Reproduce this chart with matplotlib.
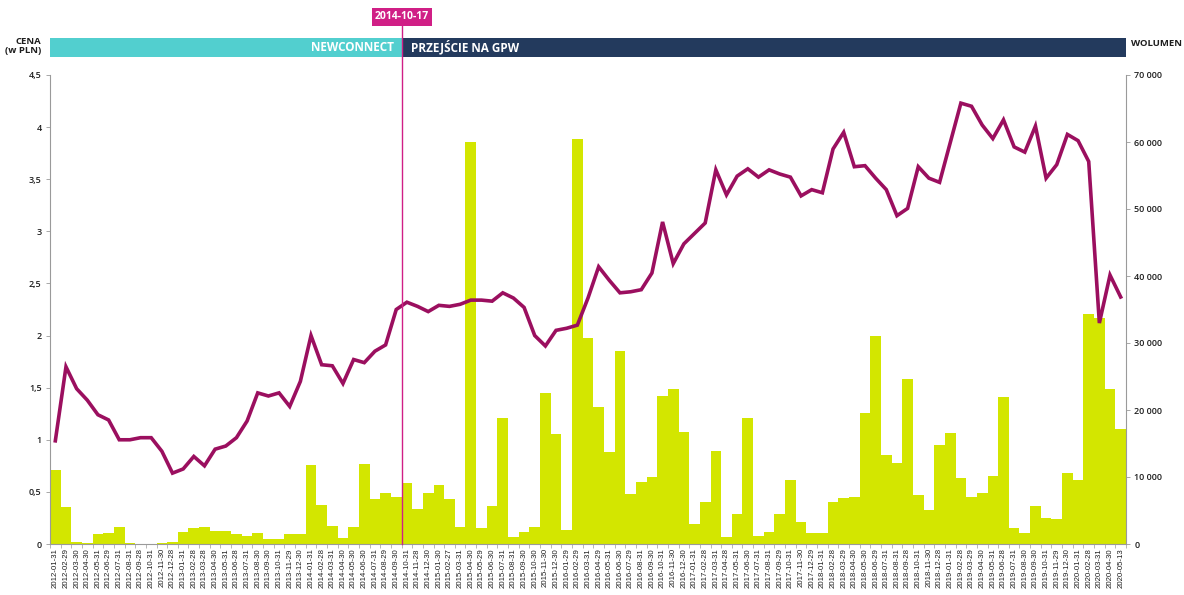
import matplotlib
matplotlib.use("Agg")
import matplotlib.pyplot as plt
import matplotlib.transforms as mtransforms
from matplotlib.patches import Rectangle
from matplotlib.ticker import FixedLocator, FuncFormatter
import numpy as np

# Daty notowań (koniec miesiąca)
daty = [
    "2012-01-31", "2012-02-29", "2012-03-30", "2012-04-30", "2012-05-31", "2012-06-29",
    "2012-07-31", "2012-08-31", "2012-09-28", "2012-10-31", "2012-11-30", "2012-12-28",
    "2013-01-31", "2013-02-28", "2013-03-28", "2013-04-30", "2013-05-31", "2013-06-28",
    "2013-07-31", "2013-08-30", "2013-09-30", "2013-10-31", "2013-11-29", "2013-12-30",
    "2014-01-31", "2014-02-28", "2014-03-31", "2014-04-30", "2014-05-30", "2014-06-30",
    "2014-07-31", "2014-08-29", "2014-09-30", "2014-10-31", "2014-11-28", "2014-12-30",
    "2015-01-30", "2015-02-27", "2015-03-31", "2015-04-30", "2015-05-29", "2015-06-30",
    "2015-07-31", "2015-08-31", "2015-09-30", "2015-10-30", "2015-11-30", "2015-12-30",
    "2016-01-29", "2016-02-29", "2016-03-31", "2016-04-29", "2016-05-31", "2016-06-30",
    "2016-07-29", "2016-08-31", "2016-09-30", "2016-10-31", "2016-11-30", "2016-12-30",
    "2017-01-31", "2017-02-28", "2017-03-31", "2017-04-28", "2017-05-31", "2017-06-30",
    "2017-07-31", "2017-08-31", "2017-09-29", "2017-10-31", "2017-11-30", "2017-12-29",
    "2018-01-31", "2018-02-28", "2018-03-29", "2018-04-30", "2018-05-30", "2018-06-29",
    "2018-07-31", "2018-08-31", "2018-09-28", "2018-10-31", "2018-11-30", "2018-12-28",
    "2019-01-31", "2019-02-28", "2019-03-29", "2019-04-30", "2019-05-31", "2019-06-28",
    "2019-07-31", "2019-08-30", "2019-09-30", "2019-10-31", "2019-11-29", "2019-12-30",
    "2020-01-31", "2020-02-28", "2020-03-31", "2020-04-30", "2020-05-13",
]

# Cena zamknięcia (PLN)
cena = [
    0.99, 1.70, 1.49, 1.38, 1.24, 1.19, 1.00, 1.00, 1.02, 1.02, 0.89, 0.68,
    0.72, 0.84, 0.75, 0.91, 0.94, 1.02, 1.18, 1.45, 1.42, 1.45, 1.32, 1.56,
    2.00, 1.72, 1.71, 1.54, 1.77, 1.74, 1.85, 1.91, 2.25, 2.32, 2.28, 2.23,
    2.29, 2.28, 2.30, 2.34, 2.34, 2.33, 2.41, 2.36, 2.27, 2.00, 1.90, 2.05,
    2.07, 2.10, 2.36, 2.66, 2.53, 2.41, 2.42, 2.44, 2.60, 3.09, 2.69, 2.88,
    2.98, 3.08, 3.59, 3.35, 3.53, 3.60, 3.52, 3.59, 3.55, 3.52, 3.34, 3.40,
    3.37, 3.79, 3.95, 3.62, 3.63, 3.51, 3.40, 3.15, 3.22, 3.62, 3.51, 3.47,
    3.85, 4.23, 4.20, 4.02, 3.89, 4.07, 3.81, 3.76, 4.01, 3.51, 3.64, 3.93,
    3.87, 3.67, 2.12, 2.58, 2.37,
]

# Wolumen obrotu (szt.)
wolumen = [
    11000, 5500, 350, 100, 1500, 1600, 2600, 150, 50, 50, 150, 350,
    1800, 2400, 2600, 2000, 2000, 1500, 1250, 1700, 800, 800, 1550, 1550,
    11850, 5800, 2700, 850, 2600, 11950, 6650, 7650, 7050, 9050, 5150, 7550,
    8800, 6700, 2500, 60000, 2350, 5650, 18750, 1000, 1850, 2500, 22600, 16400,
    2100, 60500, 30700, 20400, 13700, 28800, 7450, 9300, 10050, 22100, 23100, 16750,
    3000, 6300, 13900, 1000, 4450, 18750, 1200, 1750, 4450, 9550, 3300, 1700,
    1700, 6300, 6900, 6950, 19500, 31100, 13300, 12050, 24700, 7300, 5050, 14850,
    16500, 9900, 6950, 7550, 10150, 21900, 2450, 1600, 5650, 3950, 3750, 10550,
    9550, 34300, 33700, 23100, 17100,
]

data_przejscia = "2014-10-17"

kolor_linii = "#9b0f5f"
kolor_slupkow = "#d3e600"
kolor_znacznika = "#d01f86"
kolor_nc = "#52cfcf"
kolor_gpw = "#233a5d"
kolor_osi = "#9a9a9a"

plt.rcParams["font.family"] = ["Open Sans", "DejaVu Sans"]

x = np.arange(len(daty))

# pozycja daty przejścia między dwoma sąsiednimi notowaniami
d_all = np.array(daty, dtype="datetime64[D]")
d_p = np.datetime64(data_przejscia)
k = int(np.searchsorted(d_all, d_p)) - 1
poz_przejscia = k + (d_p - d_all[k]) / (d_all[k + 1] - d_all[k])

fig = plt.figure(figsize=(11.84, 5.95), dpi=100)
ax = fig.add_axes([50 / 1184, 51 / 595, 1076 / 1184, 469 / 595])
ax2 = ax.twinx()

# Słupki wolumenu (oś prawa)
ax.bar(x, wolumen, width=1.0, color=kolor_slupkow, linewidth=0, zorder=2)
ax.set_xlim(-0.5, len(daty) - 0.5)
ax.set_ylim(0, 70000)
ax.yaxis.tick_right()
ax.yaxis.set_major_locator(FixedLocator(np.arange(0, 70001, 10000)))
ax.yaxis.set_major_formatter(FuncFormatter(lambda v, p: f"{int(v):,}".replace(",", " ")))
ax.tick_params(axis="y", labelsize=6.5, length=3, width=0.6, color=kolor_osi,
               labelcolor="#1e1e1e", pad=3)
for t in ax.get_yticklabels():
    t.set_fontweight("semibold")

ax.set_xticks(x)
ax.set_xticklabels(daty, rotation=90, fontsize=5.6, family="Liberation Sans", color="#1e1e1e")
ax.set_xticks(np.arange(-0.5, len(daty), 1.0), minor=True)
ax.tick_params(axis="x", which="major", length=0, pad=3)
ax.tick_params(axis="x", which="minor", length=3, width=0.5, color=kolor_osi)

for s in ["top", "left"]:
    ax.spines[s].set_visible(False)
for s in ["right", "bottom"]:
    ax.spines[s].set_visible(True)
    ax.spines[s].set_color(kolor_osi)
    ax.spines[s].set_linewidth(0.8)

# Linia ceny (oś lewa)
ax2.plot(x, cena, color=kolor_linii, linewidth=2.6, solid_joinstyle="miter", zorder=3)
ax2.set_ylim(0, 4.5)
ax2.yaxis.tick_left()
ax2.yaxis.set_major_locator(FixedLocator(np.arange(0, 4.51, 0.5)))
ax2.yaxis.set_major_formatter(FuncFormatter(lambda v, p: f"{v:g}".replace(".", ",")))
ax2.tick_params(axis="y", labelsize=6.5, length=3, width=0.6, color=kolor_osi,
                labelcolor="#1e1e1e", pad=3)
for t in ax2.get_yticklabels():
    t.set_fontweight("semibold")
for s in ["top", "right", "bottom"]:
    ax2.spines[s].set_visible(False)
ax2.spines["left"].set_visible(True)
ax2.spines["left"].set_color(kolor_osi)
ax2.spines["left"].set_linewidth(0.8)

# Pasy rynków nad wykresem
tr = mtransforms.blended_transform_factory(ax2.transData, ax2.transAxes)
y0, y1 = 1 + 18 / 469, 1 + 37 / 469
ax2.add_patch(Rectangle((-0.5, y0), poz_przejscia + 0.5, y1 - y0, transform=tr,
                        color=kolor_nc, clip_on=False, linewidth=0))
ax2.add_patch(Rectangle((poz_przejscia, y0), len(daty) - 0.5 - poz_przejscia, y1 - y0,
                        transform=tr, color=kolor_gpw, clip_on=False, linewidth=0))
ax2.text(poz_przejscia - 0.8, (y0 + y1) / 2, "NEWCONNECT", transform=tr, ha="right",
         va="center", color="white", fontsize=8.5, fontweight="bold")
ax2.text(poz_przejscia + 0.8, (y0 + y1) / 2, "PRZEJŚCIE NA GPW", transform=tr, ha="left",
         va="center", color="white", fontsize=8.5, fontweight="bold")

# Znacznik daty przejścia
ax2.plot([poz_przejscia, poz_przejscia], [0, 1 + 49 / 469], transform=tr,
         color=kolor_znacznika, linewidth=1.0, clip_on=False, zorder=4)
ax2.text(poz_przejscia, 1 + 58 / 469, data_przejscia, transform=tr, ha="center",
         va="center", color="white", fontsize=7.5, fontweight="bold",
         bbox=dict(boxstyle="square,pad=0.3", facecolor=kolor_znacznika, edgecolor="none"))

# Opisy osi
fig.text(41 / 1184, 1 - 46 / 595, "CENA\n(w PLN)", ha="right", va="center",
         fontsize=6.8, fontweight="bold", color="#1e1e1e", linespacing=1.1)
fig.text(1131 / 1184, 1 - 44 / 595, "WOLUMEN", ha="left", va="center",
         fontsize=6.8, fontweight="bold", color="#1e1e1e")

fig.savefig("out.png", dpi=100)
